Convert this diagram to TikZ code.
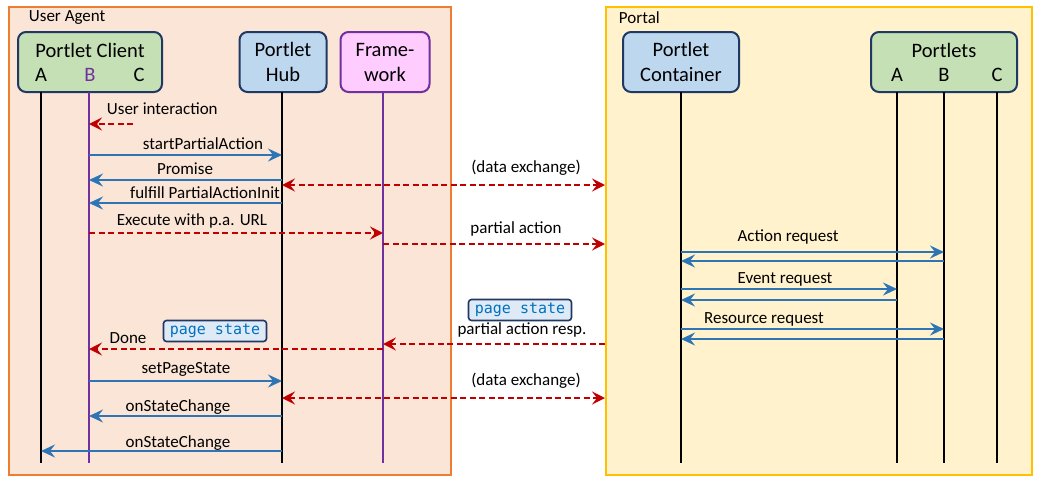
\documentclass[tikz,border=0pt]{standalone}
\usepackage{fontspec}
\setmainfont{Carlito}
\setmonofont{DejaVu Sans Mono}
\usetikzlibrary{arrows.meta}

\definecolor{uafill}{RGB}{251,229,214}
\definecolor{uadraw}{RGB}{237,125,49}
\definecolor{ptfill}{RGB}{255,242,204}
\definecolor{ptdraw}{RGB}{255,192,0}
\definecolor{navy}{RGB}{31,56,100}
\definecolor{greenbox}{RGB}{197,224,180}
\definecolor{bluebox}{RGB}{189,215,238}
\definecolor{pinkbox}{RGB}{255,204,255}
\definecolor{fwpurple}{RGB}{112,48,160}
\definecolor{msgblue}{RGB}{46,117,182}
\definecolor{msgred}{RGB}{192,0,0}
\definecolor{tagfill}{RGB}{222,235,247}
\definecolor{tagtext}{RGB}{0,112,192}

\tikzset{
  lbl/.style={inner sep=0.75pt, font=\fontsize{17}{20}\selectfont},
  actor/.style={draw=navy, line width=2pt, rounded corners=8pt, minimum height=60pt, align=center, font=\fontsize{20.5}{25}\selectfont},
  life/.style={line width=2pt},
  msg/.style={color=msgblue, line width=2.2pt, -{Stealth[length=14pt,width=13pt,inset=5pt]}},
  req/.style={color=msgred, line width=2pt, dash pattern={on 6pt off 3.5pt}, -{Stealth[length=13pt,width=13pt,inset=5pt]}},
  tag/.style={draw=navy, line width=1.6pt, fill=tagfill, rounded corners=3pt, text=tagtext, minimum width=103pt, minimum height=21pt, inner sep=1pt, font=\fontsize{15}{17}\ttfamily}
}

\begin{document}
\begin{tikzpicture}[x=1pt,y=1pt,yscale=-1]
\useasboundingbox (0,0) rectangle (1044,485);

%Shape: Rectangle [User Agent]
\node (ua) [draw=uadraw, fill=uafill, line width=2pt, minimum width=442pt, minimum height=468pt, inner sep=0pt] at (230,241) {};
%Shape: Rectangle [Portal]
\node (portal) [draw=ptdraw, fill=ptfill, line width=2pt, minimum width=426pt, minimum height=468pt, inner sep=0pt] at (819,241) {};

% Text Node
\draw (28,18) node (uatitle) [anchor=west] [lbl]  {User Agent};
% Text Node
\draw (618,18) node (pttitle) [anchor=west] [lbl]  {Portal};

%Shape: Actors
\node (client) [actor, fill=greenbox, minimum width=144pt] at (90,62) {};
\node (hub) [actor, fill=bluebox, minimum width=87pt] at (283,62) {Portlet\\Hub};
\node (fw) [actor, draw=fwpurple, fill=pinkbox, minimum width=89pt] at (385,62) {Frame-\\work};
\node (cont) [actor, fill=bluebox, minimum width=116pt] at (681,62) {Portlet\\Container};
\node (plets) [actor, fill=greenbox, minimum width=146pt] at (944,62) {};

% Text Node
\draw (90,50) node (clientname) [actor, draw=none, minimum height=0pt, inner sep=0.75pt]  {Portlet Client};
\draw (41,75) node (cA) [actor, draw=none, minimum height=0pt, inner sep=0.75pt]  {A};
\draw (90,75) node (cB) [actor, draw=none, minimum height=0pt, inner sep=0.75pt, text=fwpurple]  {B};
\draw (139,75) node (cC) [actor, draw=none, minimum height=0pt, inner sep=0.75pt]  {C};
\draw (944,50) node (pletsname) [actor, draw=none, minimum height=0pt, inner sep=0.75pt]  {Portlets};
\draw (897,75) node (pA) [actor, draw=none, minimum height=0pt, inner sep=0.75pt]  {A};
\draw (944,75) node (pB) [actor, draw=none, minimum height=0pt, inner sep=0.75pt]  {B};
\draw (997,75) node (pC) [actor, draw=none, minimum height=0pt, inner sep=0.75pt]  {C};

%Lifelines
\coordinate (lA) at (41,92);
\coordinate (lB) at (89,92);
\coordinate (lHub) at (282,92);
\coordinate (lFw) at (383,92);
\coordinate (lCont) at (681,92);
\coordinate (lPA) at (897,92);
\coordinate (lPB) at (944,92);
\coordinate (lPC) at (997,92);
\coordinate (uiStart) at (133,124);
\draw [life] (lA) -- (lA |- 0,463);
\draw [life, color=fwpurple, line width=1.5pt] (lB) -- (lB |- 0,463);
\draw [life] (lHub) -- (lHub |- 0,463);
\draw [life, color=fwpurple, line width=1.5pt] (lFw) -- (lFw |- 0,463);
\draw [life] (lCont) -- (lCont |- 0,463);
\draw [life] (lPA) -- (lPA |- 0,463);
\draw [life] (lPB) -- (lPB |- 0,463);
\draw [life] (lPC) -- (lPC |- 0,463);

%Messages, user agent side
\draw [req] (uiStart) -- (lB |- uiStart);
\draw [msg] (lB |- 0,155) -- (lHub |- 0,155);
\draw [msg] (lHub |- 0,180) -- (lB |- 0,180);
\draw [req, {Stealth[length=13pt,width=13pt,inset=5pt]}-{Stealth[length=13pt,width=13pt,inset=5pt]}] (lHub |- 0,185) -- (portal.west |- 0,185);
\draw [msg] (lHub |- 0,203) -- (lB |- 0,203);
\draw [req] (lB |- 0,233) -- (lFw |- 0,233);
\draw [req] (lFw |- 0,244) -- (portal.west |- 0,244);
\draw [req] (portal.west |- 0,344) -- (lFw |- 0,344);
\draw [req] (lFw |- 0,349) -- (lB |- 0,349);
\draw [msg] (lB |- 0,381) -- (lHub |- 0,381);
\draw [req, {Stealth[length=13pt,width=13pt,inset=5pt]}-{Stealth[length=13pt,width=13pt,inset=5pt]}] (lHub |- 0,398) -- (portal.west |- 0,398);
\draw [msg] (lHub |- 0,416) -- (lB |- 0,416);
\draw [msg] (lHub |- 0,451) -- (lA |- 0,451);

%Messages, portal side
\draw [msg] (lCont |- 0,252) -- (lPB |- 0,252);
\draw [msg] (lPB |- 0,261) -- (lCont |- 0,261);
\draw [msg] (lCont |- 0,289) -- (lPA |- 0,289);
\draw [msg] (lPA |- 0,300) -- (lCont |- 0,300);
\draw [msg] (lCont |- 0,329) -- (lPB |- 0,329);
\draw [msg] (lPB |- 0,339) -- (lCont |- 0,339);

% Text Node
\draw (106,109) node (tUi) [anchor=west] [lbl]  {User interaction};
% Text Node
\draw (203,144) node (tSpa) [lbl]  {startPartialAction};
% Text Node
\draw (185,169) node (tProm) [lbl]  {Promise};
% Text Node
\draw (526,168) node (tDx1) [lbl]  {(data exchange)};
% Text Node
\draw (205,193) node (tFul) [lbl]  {fulfill PartialActionInit};
% Text Node
\draw (192,221) node (tExe) [lbl]  {Execute with p.a. URL};
% Text Node
\draw (516,229) node (tPa) [lbl]  {partial action};
% Text Node
\draw (788,237) node (tAct) [lbl]  {Action request};
% Text Node
\draw (785,279) node (tEvt) [lbl]  {Event request};
% Text Node
\draw (764,319) node (tRes) [lbl]  {Resource request};
% Text Node
\draw (520,310) node (tag2) [tag]  {page state};
% Text Node
\draw (522,330) node (tPar) [lbl]  {partial action resp.};
% Text Node
\draw (215,331) node (tag1) [tag]  {page state};
% Text Node
\draw (128,338) node (tDone) [lbl]  {Done};
% Text Node
\draw (186,369) node (tSps) [lbl]  {setPageState};
% Text Node
\draw (526,381) node (tDx2) [lbl]  {(data exchange)};
% Text Node
\draw (178,407) node (tOsc1) [lbl]  {onStateChange};
% Text Node
\draw (178,443) node (tOsc2) [lbl]  {onStateChange};

\end{tikzpicture}
\end{document}
